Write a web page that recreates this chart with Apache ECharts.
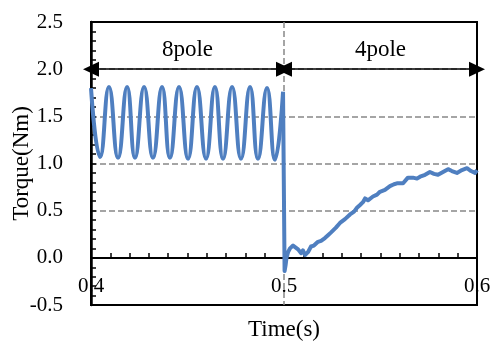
<!DOCTYPE html>
<html>
<head>
<meta charset="utf-8">
<script src="https://cdn.jsdelivr.net/npm/echarts@6/dist/echarts.min.js"></script>
<style>
  html, body { margin: 0; padding: 0; background: #fff; }
  #main { width: 494px; height: 343px; }
</style>
</head>
<body>
<div id="main"></div>
<script>
// 8pole part: peaks and troughs
const sineTime = [0.4, 0.4047, 0.4093, 0.414, 0.4187, 0.4228, 0.4275, 0.4321, 0.4368, 0.4409, 0.4456, 0.4503,
  0.4549, 0.4596, 0.4642, 0.4684, 0.4731, 0.4777, 0.4824, 0.4865, 0.4912, 0.4953, 0.4995];
const sineTorque = [1.80, 1.07, 1.81, 1.06, 1.81, 1.06, 1.81, 1.06, 1.81, 1.06, 1.81, 1.05,
  1.81, 1.05, 1.81, 1.05, 1.81, 1.05, 1.81, 1.05, 1.80, 1.04, 1.76];

// 4pole part (after the switch at 0.5 s)
const stepTime = [0.4995, 0.5003, 0.5008, 0.5013, 0.5021, 0.5031, 0.5047, 0.5057, 0.5073, 0.5088, 0.5098, 0.5109,
  0.5124, 0.514, 0.5155, 0.5176, 0.5192, 0.5212, 0.5228, 0.5244, 0.5269, 0.529, 0.5316, 0.5342, 0.5363,
  0.5378, 0.5394, 0.5409, 0.542, 0.5435, 0.5461, 0.5482, 0.5497, 0.5523, 0.5549, 0.557, 0.5585, 0.5601,
  0.5617, 0.5642, 0.5668, 0.5689, 0.5705, 0.5731, 0.5756, 0.5777, 0.5798, 0.5824, 0.585, 0.587, 0.5896,
  0.5922, 0.5948, 0.5969, 0.599, 0.6];
const stepTorque = [1.76, -0.14, -0.08, 0.0, 0.06, 0.10, 0.13, 0.14, 0.09, 0.05, 0.08, 0.03,
  0.06, 0.12, 0.13, 0.17, 0.18, 0.21, 0.24, 0.27, 0.32, 0.37, 0.41, 0.46, 0.49,
  0.53, 0.56, 0.59, 0.63, 0.61, 0.65, 0.67, 0.70, 0.72, 0.76, 0.78, 0.79, 0.79,
  0.79, 0.85, 0.85, 0.84, 0.86, 0.88, 0.91, 0.89, 0.88, 0.91, 0.94, 0.92, 0.90,
  0.93, 0.95, 0.92, 0.90, 0.93];

const phaseNames = ['8pole', '4pole'];
const phaseBounds = [0.4, 0.5, 0.6];
const arrowLevel = 2.0;

const font = 'Liberation Serif';
const lineColor = '#4F7FC0';
const gridDash = { color: '#888', width: 1.5, type: [6, 3] };

const zip = (xs, ys) => xs.map((x, i) => [x, ys[i]]);

const arrows = phaseNames.map((name, i) => [
  { coord: [phaseBounds[i], arrowLevel], name: name },
  { coord: [phaseBounds[i + 1], arrowLevel] }
]);

const chart = echarts.init(document.getElementById('main'));

chart.setOption({
  animation: false,
  grid: {
    left: 91, right: 17, top: 22, bottom: 38,
    outerBoundsMode: 'none',
    containLabel: false,
    show: true, borderColor: '#000', borderWidth: 2, backgroundColor: 'transparent'
  },
  xAxis: {
    type: 'value',
    min: 0.4, max: 0.6, interval: 0.1,
    position: 'bottom',
    // x axis sits on torque = 0, labels follow it
    axisLine: { onZero: false, lineStyle: { color: '#000', width: 2 } },
    offset: -47,
    name: 'Time(s)',
    nameLocation: 'middle',
    nameGap: 60,
    nameMoveOverlap: false,
    nameTextStyle: { fontFamily: font, fontSize: 23, color: '#000' },
    axisTick: { inside: true, length: 5, lineStyle: { color: '#000', width: 1.5 } },
    minorTick: { show: true, splitNumber: 10, length: 5, lineStyle: { color: '#000', width: 1.5 } },
    axisLabel: {
      fontFamily: font, fontSize: 21, color: '#000', margin: 18,
      formatter: v => v.toFixed(1)
    },
    splitLine: { show: true, showMinLine: false, showMaxLine: false, lineStyle: gridDash }
  },
  yAxis: {
    type: 'value',
    min: -0.5, max: 2.5, interval: 0.5,
    name: 'Torque(Nm)',
    nameLocation: 'middle',
    nameGap: 58,
    nameMoveOverlap: false,
    nameTextStyle: { fontFamily: font, fontSize: 23, color: '#000' },
    axisLine: { show: true, lineStyle: { color: '#000', width: 2.5 } },
    axisTick: { show: true, inside: true, length: 5, lineStyle: { color: '#000', width: 1.5 } },
    minorTick: { show: true, splitNumber: 5, length: 5, lineStyle: { color: '#000', width: 1.5 } },
    axisLabel: {
      fontFamily: font, fontSize: 21, color: '#000', margin: 28,
      formatter: v => v.toFixed(1)
    },
    splitLine: { show: true, showMinLine: false, showMaxLine: false, lineStyle: gridDash }
  },
  series: [
    {
      name: '8pole',
      type: 'line',
      data: zip(sineTime, sineTorque),
      smooth: 0.5,
      showSymbol: false,
      lineStyle: { color: lineColor, width: 4 },
      z: 3,
      markLine: {
        silent: true,
        symbol: ['triangle', 'triangle'],
        symbolSize: [15, 16],
        lineStyle: { color: '#000', width: 1.5, type: 'solid' },
        itemStyle: { color: '#000' },
        label: {
          show: true,
          position: 'insideMiddleTop',
          distance: 8,
          formatter: p => p.name,
          fontFamily: font, fontSize: 23, color: '#000'
        },
        data: arrows
      }
    },
    {
      name: '4pole',
      type: 'line',
      data: zip(stepTime, stepTorque),
      showSymbol: false,
      lineStyle: { color: lineColor, width: 4, join: 'round' },
      z: 3
    }
  ]
});
</script>
</body>
</html>
